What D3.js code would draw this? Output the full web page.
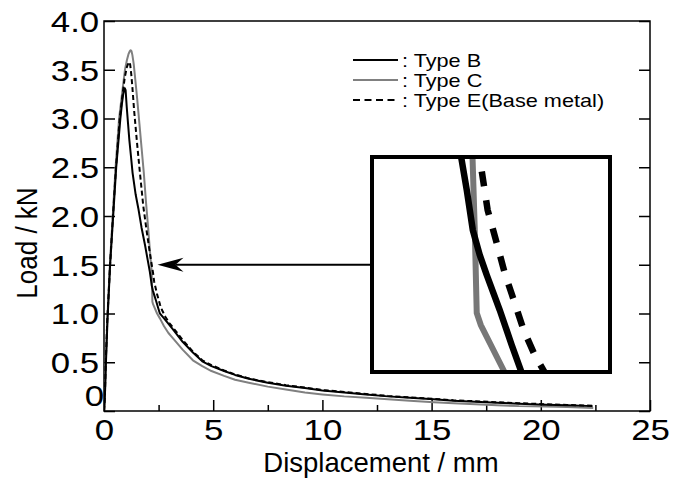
<!DOCTYPE html>
<html><head><meta charset="utf-8">
<script src="https://cdn.jsdelivr.net/npm/d3@7/dist/d3.min.js"></script>
<style>body{margin:0;background:#fff}svg{display:block}</style>
</head><body>
<svg id="c" width="682" height="488"></svg>
<script>
// ---------------- data ----------------
const typeB_x = [0,0.04,0.09,0.16,0.28,0.42,0.56,0.75,0.82,0.88,0.92,0.95,0.99,1.04,1.1,1.16,1.24,1.31,1.45,1.57,1.72,1.88,2.0,2.099,2.139,2.185,2.238,2.291,2.39,2.481,2.555,2.75,3.0,3.22,3.6,4.07,4.5,4.92,5.5,6.0,6.63,7.5,8.33,9.2,10,11,12,13,14,15.1,16,17,18,19,20.2,21.2,22.37];
const typeB_y = [0,0.15,0.5,0.93,1.5,2.0,2.5,3.0,3.15,3.25,3.29,3.31,3.29,3.12,2.95,2.78,2.6,2.44,2.22,2.08,1.88,1.7,1.55,1.428,1.366,1.286,1.236,1.196,1.126,1.056,1.002,0.95,0.88,0.82,0.71,0.6,0.51,0.46,0.41,0.37,0.33,0.29,0.26,0.235,0.21,0.19,0.17,0.15,0.135,0.12,0.105,0.095,0.085,0.075,0.065,0.058,0.05];

const typeC_x = [0,0.04,0.08,0.15,0.27,0.4,0.53,0.69,0.85,0.96,1.05,1.12,1.18,1.22,1.26,1.3,1.36,1.41,1.52,1.62,1.72,1.82,1.92,2.02,2.1,2.183,2.2,2.215,2.246,2.43,2.56,2.75,2.95,3.22,3.6,4.07,4.5,4.92,5.5,6,6.63,7.5,8.33,9.2,10,11,12,13,14,15.1,16,17,18,19,20.2,21.2,22.4];
const typeC_y = [0,0.15,0.5,0.93,1.5,2.0,2.5,3.0,3.3,3.5,3.6,3.66,3.69,3.7,3.69,3.65,3.56,3.45,3.2,2.95,2.7,2.45,2.15,1.88,1.65,1.43,1.286,1.12,1.096,1.0,0.95,0.87,0.8,0.73,0.63,0.52,0.46,0.41,0.36,0.32,0.29,0.25,0.22,0.19,0.17,0.15,0.135,0.12,0.105,0.09,0.08,0.07,0.06,0.05,0.045,0.04,0.03];

const typeE_x = [0,0.04,0.08,0.15,0.28,0.41,0.55,0.72,0.85,0.95,1.05,1.12,1.16,1.2,1.25,1.3,1.38,1.5,1.65,1.8,1.95,2.1,2.246,2.298,2.367,2.428,2.504,2.572,2.656,2.8,3.0,3.25,3.6,4.07,4.5,4.92,5.5,6.0,6.63,7.5,8.33,9.2,10,11,12,13,14,15.1,16,17,18,19,20.2,21.2,22.37];
const typeE_y = [0,0.15,0.5,0.93,1.5,2.0,2.5,3.0,3.25,3.42,3.53,3.57,3.58,3.55,3.45,3.32,3.08,2.78,2.43,2.1,1.85,1.62,1.416,1.326,1.26,1.2,1.14,1.086,1.036,0.97,0.9,0.83,0.73,0.61,0.52,0.47,0.415,0.375,0.335,0.295,0.265,0.24,0.215,0.195,0.175,0.155,0.14,0.125,0.11,0.1,0.09,0.08,0.07,0.062,0.055];

const xMajorTicks = [0,5,10,15,20,25];
const xTickLabels = ["0","5","10","15","20","25"];
const xMinorTicks = [2.5,7.5,12.5,17.5,22.5];
const yTicks = [0,0.5,1,1.5,2,2.5,3,3.5,4];
const yTickLabels = ["0","0.5","1.0","1.5","2.0","2.5","3.0","3.5","4.0"];
const legendLabels = [": Type B", ": Type C", ": Type E(Base metal)"];
const xTitle = "Displacement / mm";
const yTitle = "Load / kN";
// magnified window (data coordinates) shown in the inset
const insetXDomain = [1.418, 3.229];
const insetYDomain = [1.002, 1.432];
const arrowPoint = [2.22, 1.5];

// ---------------- chart ----------------
const svg = d3.select("#c");
const FONT = "'Liberation Sans', Arial, Helvetica, sans-serif";
const L = 104, R = 650, T = 21, B = 411;
const x = d3.scaleLinear().domain([0,25]).range([L,R]);
const y = d3.scaleLinear().domain([0,4]).range([B,T]);

const series = [
  {xs: typeB_x, ys: typeB_y, color: "#000", dash: null, w: 2},
  {xs: typeC_x, ys: typeC_y, color: "#808080", dash: null, w: 2},
  {xs: typeE_x, ys: typeE_y, color: "#000", dash: "5,3", w: 2}
];
series.forEach(s => s.pts = s.xs.map((v,i)=>[v, s.ys[i]]));

// axes
function styleAxis(g){
  g.select(".domain").remove();
  g.selectAll(".tick line").attr("stroke","#000").attr("stroke-width",1.5);
  g.attr("font-family", FONT);
}
const gx = svg.append("g").attr("transform",`translate(0,${B})`)
  .call(d3.axisBottom(x).tickValues(xMajorTicks).tickSize(-11).tickPadding(8)
    .tickFormat((d,i)=>xTickLabels[i]));
styleAxis(gx);
gx.attr("font-size", 29);
gx.selectAll(".tick text").attr("fill","#000").attr("transform","scale(1.2,1)");

const gxm = svg.append("g").attr("transform",`translate(0,${B})`)
  .call(d3.axisBottom(x).tickValues(xMinorTicks).tickSize(-6).tickFormat(""));
styleAxis(gxm);

const gy = svg.append("g").attr("transform",`translate(${L},0)`)
  .call(d3.axisLeft(y).tickValues(yTicks).tickSize(-11).tickPadding(4)
    .tickFormat((d,i)=>yTickLabels[i]));
styleAxis(gy);
gy.attr("font-size", 29);
gy.selectAll(".tick text").attr("fill","#000").attr("transform","scale(1.2,1)").attr("dy","0.36em");
gy.selectAll(".tick").filter(d=>d===0).select("text").attr("dy","-0.18em").attr("x",0);

const gr = svg.append("g").attr("transform",`translate(${R},0)`)
  .call(d3.axisRight(y).tickValues(yTicks).tickSize(-11).tickFormat(""));
styleAxis(gr);

// frame
svg.append("rect").attr("x",L).attr("y",T).attr("width",R-L).attr("height",B-T)
  .attr("fill","none").attr("stroke","#000").attr("stroke-width",1.5);

// titles
svg.append("text").attr("x",(L+R)/2+4).attr("y",472).attr("text-anchor","middle")
  .attr("font-family",FONT).attr("font-size",27.5).text(xTitle);
svg.append("text").attr("transform","translate(37,243) scale(1.1,1) rotate(-90)")
  .attr("text-anchor","middle").attr("font-family",FONT).attr("font-size",26).text(yTitle);

// curves
const lineP = d3.line().x(d=>x(d[0])).y(d=>y(d[1]));
svg.append("defs").append("clipPath").attr("id","plotclip")
  .append("rect").attr("x",L).attr("y",T).attr("width",R-L).attr("height",B-T);
const gc = svg.append("g").attr("clip-path","url(#plotclip)");
[series[1], series[0], series[2]].forEach(s=>{
  gc.append("path").attr("d", lineP(s.pts)).attr("fill","none")
    .attr("stroke", s.color).attr("stroke-width", s.w)
    .attr("stroke-dasharray", s.dash).attr("stroke-linejoin","round");
});

// legend
const lg = svg.append("g");
const legY = [60, 80, 100];
series.forEach((s,i)=>{
  lg.append("line").attr("x1",353).attr("x2",398).attr("y1",legY[i]).attr("y2",legY[i])
    .attr("stroke", s.color).attr("stroke-width",2)
    .attr("stroke-dasharray", s.dash ? "7,4.5" : null);
  lg.append("text").attr("transform",`translate(402,${legY[i]+6.5}) scale(1.24,1)`)
    .attr("font-family",FONT).attr("font-size",17.5).text(legendLabels[i]);
});

// inset
const IX0 = 372, IX1 = 610, IY0 = 157, IY1 = 372;
const xi = d3.scaleLinear().domain(insetXDomain).range([IX0,IX1]);
const yi = d3.scaleLinear().domain(insetYDomain).range([IY1,IY0]);
svg.select("defs").append("clipPath").attr("id","insetclip")
  .append("rect").attr("x",IX0).attr("y",IY0).attr("width",IX1-IX0).attr("height",IY1-IY0);
svg.append("rect").attr("x",IX0).attr("y",IY0).attr("width",IX1-IX0).attr("height",IY1-IY0)
  .attr("fill","#fff");
const lineI = d3.line().x(d=>xi(d[0])).y(d=>yi(d[1]));
const gi = svg.append("g").attr("clip-path","url(#insetclip)");
const insetStyle = [{w:6.5,dash:null},{w:6,dash:null},{w:6.5,dash:"15,14"}];
[1,0,2].forEach(k=>{
  const s = series[k];
  gi.append("path").attr("d", lineI(s.pts)).attr("fill","none")
    .attr("stroke", s.color === "#808080" ? "#777" : s.color)
    .attr("stroke-width", insetStyle[k].w)
    .attr("stroke-dasharray", insetStyle[k].dash);
});
svg.append("rect").attr("x",IX0).attr("y",IY0).attr("width",IX1-IX0).attr("height",IY1-IY0)
  .attr("fill","none").attr("stroke","#000").attr("stroke-width",4);

// arrow from inset to the curve
const ax = x(arrowPoint[0]) + 5, ay = y(arrowPoint[1]);
svg.append("line").attr("x1",IX0).attr("x2",ax+18).attr("y1",ay).attr("y2",ay)
  .attr("stroke","#000").attr("stroke-width",2);
svg.append("path")
  .attr("d",`M${ax},${ay} L${ax+26},${ay-7} L${ax+18},${ay} L${ax+26},${ay+7} Z`)
  .attr("fill","#000");
</script>
</body></html>
